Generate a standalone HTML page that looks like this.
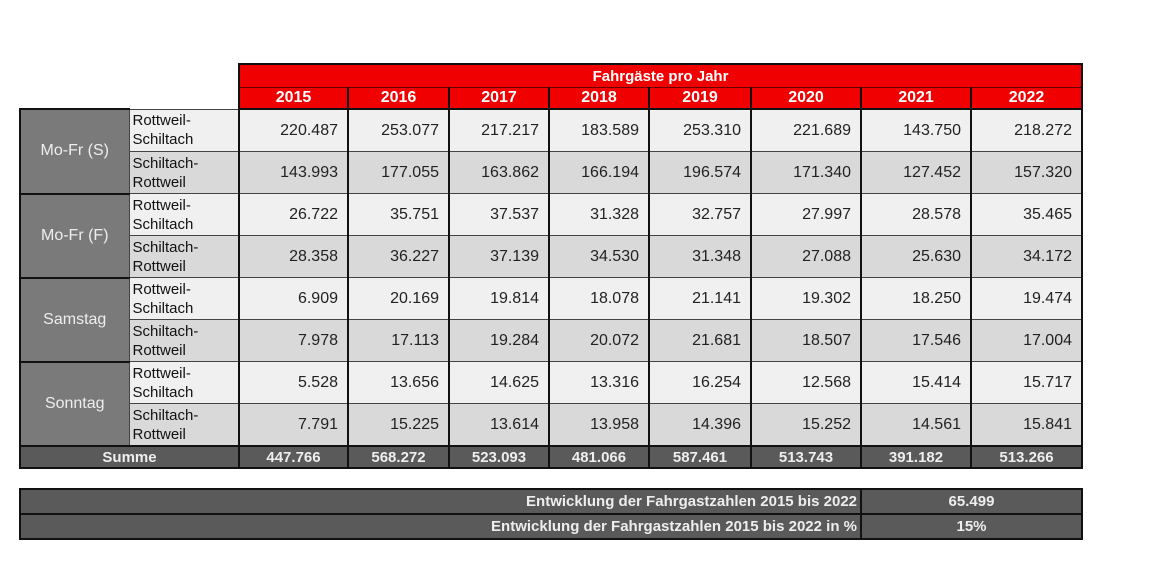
<!DOCTYPE html>
<html><head><meta charset="utf-8"><style>
html,body{margin:0;padding:0;background:#fff;width:1159px;height:578px;overflow:hidden;font-family:"Liberation Sans",Arial,sans-serif;}
table{position:absolute;border-collapse:collapse;table-layout:fixed;}
#t{left:19px;top:63px;}
td{padding:0;overflow:hidden;white-space:nowrap;}
.h1{background:#f00000;color:#fff;font-weight:bold;text-align:center;height:22px;font-size:15px;border:2px solid #111;border-bottom:1px solid #600;}
.yr{background:#f00000;color:#fff;font-weight:bold;text-align:center;height:20px;font-size:16px;border-left:2px solid #111;border-right:2px solid #111;border-bottom:2px solid #111;}
.g{background:#7a7a7a;color:#eee;text-align:center;font-size:16px;border:2px solid #111;border-right:1px solid #444;}
.s{font-size:15px;line-height:19px;color:#111;padding-left:3px;border-bottom:1px solid #444;border-top:1px solid #444;}
.v{text-align:right;padding-right:9px;font-size:16px;color:#222;border-left:2px solid #111;border-right:2px solid #111;border-bottom:1px solid #444;height:41px;}
.a td.s,.a td.v{background:#f0f0f0;}
.b td.s,.b td.v{background:#d9d9d9;}
.sum td{background:#5a5a5a;color:#eee;font-weight:bold;text-align:center;font-size:15px;height:20px;border:2px solid #111;}
#b{left:19px;top:488px;}
#b td{background:#5a5a5a;color:#eee;font-weight:bold;font-size:15px;height:23px;border:2px solid #111;}
</style></head><body>
<table id="t">
<colgroup><col style="width:109px"><col style="width:110px"><col style="width:109px"><col style="width:101px"><col style="width:100px"><col style="width:100px"><col style="width:102px"><col style="width:110px"><col style="width:110px"><col style="width:111px"></colgroup>
<tr><td></td><td></td><td class="h1" colspan="8">Fahrgäste pro Jahr</td></tr>
<tr><td></td><td></td><td class="yr">2015</td><td class="yr">2016</td><td class="yr">2017</td><td class="yr">2018</td><td class="yr">2019</td><td class="yr">2020</td><td class="yr">2021</td><td class="yr">2022</td></tr>
<tr class="a"><td class="g" rowspan="2">Mo-Fr (S)</td><td class="s">Rottweil-<br>Schiltach</td><td class="v">220.487</td><td class="v">253.077</td><td class="v">217.217</td><td class="v">183.589</td><td class="v">253.310</td><td class="v">221.689</td><td class="v">143.750</td><td class="v">218.272</td></tr>
<tr class="b"><td class="s">Schiltach-<br>Rottweil</td><td class="v">143.993</td><td class="v">177.055</td><td class="v">163.862</td><td class="v">166.194</td><td class="v">196.574</td><td class="v">171.340</td><td class="v">127.452</td><td class="v">157.320</td></tr>
<tr class="a"><td class="g" rowspan="2">Mo-Fr (F)</td><td class="s">Rottweil-<br>Schiltach</td><td class="v">26.722</td><td class="v">35.751</td><td class="v">37.537</td><td class="v">31.328</td><td class="v">32.757</td><td class="v">27.997</td><td class="v">28.578</td><td class="v">35.465</td></tr>
<tr class="b"><td class="s">Schiltach-<br>Rottweil</td><td class="v">28.358</td><td class="v">36.227</td><td class="v">37.139</td><td class="v">34.530</td><td class="v">31.348</td><td class="v">27.088</td><td class="v">25.630</td><td class="v">34.172</td></tr>
<tr class="a"><td class="g" rowspan="2">Samstag</td><td class="s">Rottweil-<br>Schiltach</td><td class="v">6.909</td><td class="v">20.169</td><td class="v">19.814</td><td class="v">18.078</td><td class="v">21.141</td><td class="v">19.302</td><td class="v">18.250</td><td class="v">19.474</td></tr>
<tr class="b"><td class="s">Schiltach-<br>Rottweil</td><td class="v">7.978</td><td class="v">17.113</td><td class="v">19.284</td><td class="v">20.072</td><td class="v">21.681</td><td class="v">18.507</td><td class="v">17.546</td><td class="v">17.004</td></tr>
<tr class="a"><td class="g" rowspan="2">Sonntag</td><td class="s">Rottweil-<br>Schiltach</td><td class="v">5.528</td><td class="v">13.656</td><td class="v">14.625</td><td class="v">13.316</td><td class="v">16.254</td><td class="v">12.568</td><td class="v">15.414</td><td class="v">15.717</td></tr>
<tr class="b"><td class="s">Schiltach-<br>Rottweil</td><td class="v">7.791</td><td class="v">15.225</td><td class="v">13.614</td><td class="v">13.958</td><td class="v">14.396</td><td class="v">15.252</td><td class="v">14.561</td><td class="v">15.841</td></tr>
<tr class="sum"><td colspan="2">Summe</td><td>447.766</td><td>568.272</td><td>523.093</td><td>481.066</td><td>587.461</td><td>513.743</td><td>391.182</td><td>513.266</td></tr>
</table>
<table id="b">
<colgroup><col style="width:841px"><col style="width:221px"></colgroup>
<tr><td style="text-align:right;padding-right:3px">Entwicklung der Fahrgastzahlen 2015 bis 2022</td><td style="text-align:center">65.499</td></tr>
<tr><td style="text-align:right;padding-right:3px">Entwicklung der Fahrgastzahlen 2015 bis 2022 in %</td><td style="text-align:center">15%</td></tr>
</table>
</body></html>
